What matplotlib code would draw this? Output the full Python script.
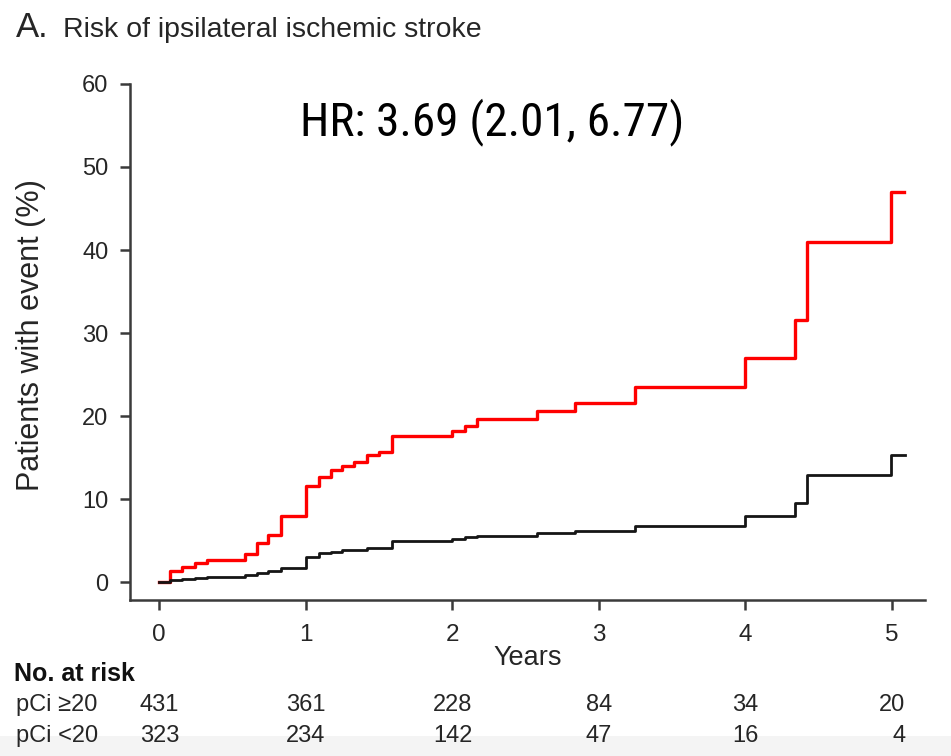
import matplotlib
matplotlib.use("Agg")
import matplotlib.pyplot as plt
from matplotlib import font_manager
from matplotlib.patches import Rectangle
from matplotlib.transforms import offset_copy, blended_transform_factory

# Cumulative incidence of ipsilateral ischemic stroke (%), step functions
years_high = [0, 0.075, 0.16, 0.245, 0.33, 0.586, 0.667, 0.746, 0.83, 1.0, 1.09, 1.17,
              1.25, 1.33, 1.42, 1.5, 1.59, 2.0, 2.09, 2.17, 2.58, 2.84, 3.25, 4.0,
              4.34, 4.42, 4.99, 5.08]
event_high = [0, 1.35, 1.85, 2.3, 2.6, 3.4, 4.65, 5.7, 7.9, 11.6, 12.7, 13.5,
              14.0, 14.4, 15.3, 15.7, 17.6, 18.2, 18.8, 19.6, 20.6, 21.6, 23.5, 27.0,
              31.6, 41.0, 47.0, 47.0]

years_low = [0, 0.075, 0.16, 0.245, 0.33, 0.586, 0.667, 0.746, 0.83, 1.0, 1.09, 1.17,
             1.25, 1.42, 1.59, 2.0, 2.09, 2.17, 2.58, 2.84, 3.25, 4.0, 4.34, 4.42,
             4.99, 5.09]
event_low = [0, 0.25, 0.35, 0.5, 0.6, 0.8, 1.1, 1.35, 1.65, 3.05, 3.45, 3.65,
             3.85, 4.1, 4.9, 5.2, 5.4, 5.6, 5.9, 6.1, 6.7, 8.0, 9.5, 12.9,
             15.3, 15.3]

risk_years = [0, 1, 2, 3, 4, 5]
risk_high = [431, 361, 228, 84, 34, 20]
risk_low = [323, 234, 142, 47, 16, 4]
group_labels = ["pCi \u226520", "pCi <20"]

y_ticks = [0, 10, 20, 30, 40, 50, 60]
x_ticks = [0, 1, 2, 3, 4, 5]
hr_text = "HR: 3.69 (2.01, 6.77)"

available = {f.name for f in font_manager.fontManager.ttflist}


def pick(*names):
    for n in names:
        if n in available:
            return n
    return "DejaVu Sans"


REG = pick("Liberation Sans", "Arimo", "DejaVu Sans")
NARROW = pick("Liberation Sans Narrow", "Roboto Condensed", "Archivo Narrow", REG)
INK = "#262626"

fig = plt.figure(figsize=(9.51, 7.56), dpi=100)

# faint grey strip along the bottom edge, behind everything
fig.patches.append(Rectangle((0, 0), 1, 20 / 756, transform=fig.transFigure,
                             facecolor="#f4f4f4", edgecolor="none", zorder=-10))

ax = fig.add_axes([0.1367, 0.2063, 0.8360, 0.6826])
ax.patch.set_alpha(0)

ax.step(years_high, event_high, where="post", color="#ff0000", lw=2.4, zorder=2)
ax.step(years_low, event_low, where="post", color="#151515", lw=2.0, zorder=3)

ax.set_xlim(-0.198, 5.225)
ax.set_ylim(-2.17, 60)
ax.set_xticks(x_ticks)
ax.set_yticks(y_ticks)

for side in ("top", "right"):
    ax.spines[side].set_visible(False)
for side in ("left", "bottom"):
    ax.spines[side].set_linewidth(1.8)
    ax.spines[side].set_color("#3a3a3a")

ax.tick_params(axis="both", direction="out", length=7.5, width=1.8, color="#3a3a3a")
ax.tick_params(axis="y", pad=8)
ax.tick_params(axis="x", pad=10)
for lbl in ax.get_yticklabels():
    lbl.set_fontfamily(REG)
    lbl.set_fontsize(17)
    lbl.set_color(INK)
for lbl in ax.get_xticklabels():
    lbl.set_fontfamily(REG)
    lbl.set_fontsize(17.5)
    lbl.set_color(INK)

ax.set_ylabel("Patients with event (%)", fontfamily=REG, fontsize=22, color=INK)
ax.yaxis.set_label_coords(-0.106, 0.514)
ax.set_xlabel("Years", fontfamily=REG, fontsize=19.5, color=INK)
ax.xaxis.set_label_coords(0.5, -0.088)

ax.text(2.27, 53.86, hr_text, fontfamily=NARROW, fontsize=34,
        ha="center", va="baseline", color="#000000")

fig.text(0.017, 0.9507, "A.", fontfamily=REG, fontsize=25, color=INK,
         ha="left", va="baseline")
fig.text(0.066, 0.9507, "Risk of ipsilateral ischemic stroke", fontfamily=REG,
         fontsize=20.5, color=INK, ha="left", va="baseline")

# number-at-risk table
fig.text(0.015, 1 - 681 / 756, "No. at risk", fontfamily=REG, fontsize=18,
         fontweight="bold", color="#111111", ha="left", va="baseline")
row_base = [1 - 711 / 756, 1 - 742 / 756]
for yb, label in zip(row_base, group_labels):
    fig.text(0.017, yb, label, fontfamily=REG, fontsize=17, color=INK,
             ha="left", va="baseline")

blend = blended_transform_factory(ax.transData, fig.transFigure)
for t, top, bottom in zip(risk_years, risk_high, risk_low):
    # right-align each column on the width of its upper count, centred on the tick
    shift = offset_copy(blend, fig=fig, x=len(str(top)) * 4.8, y=0, units="points")
    for yb, n in zip(row_base, (top, bottom)):
        ax.text(t, yb, str(n), transform=shift, fontfamily=REG, fontsize=17,
                color=INK, ha="right", va="baseline", clip_on=False)

fig.savefig("out.png", dpi=100)
